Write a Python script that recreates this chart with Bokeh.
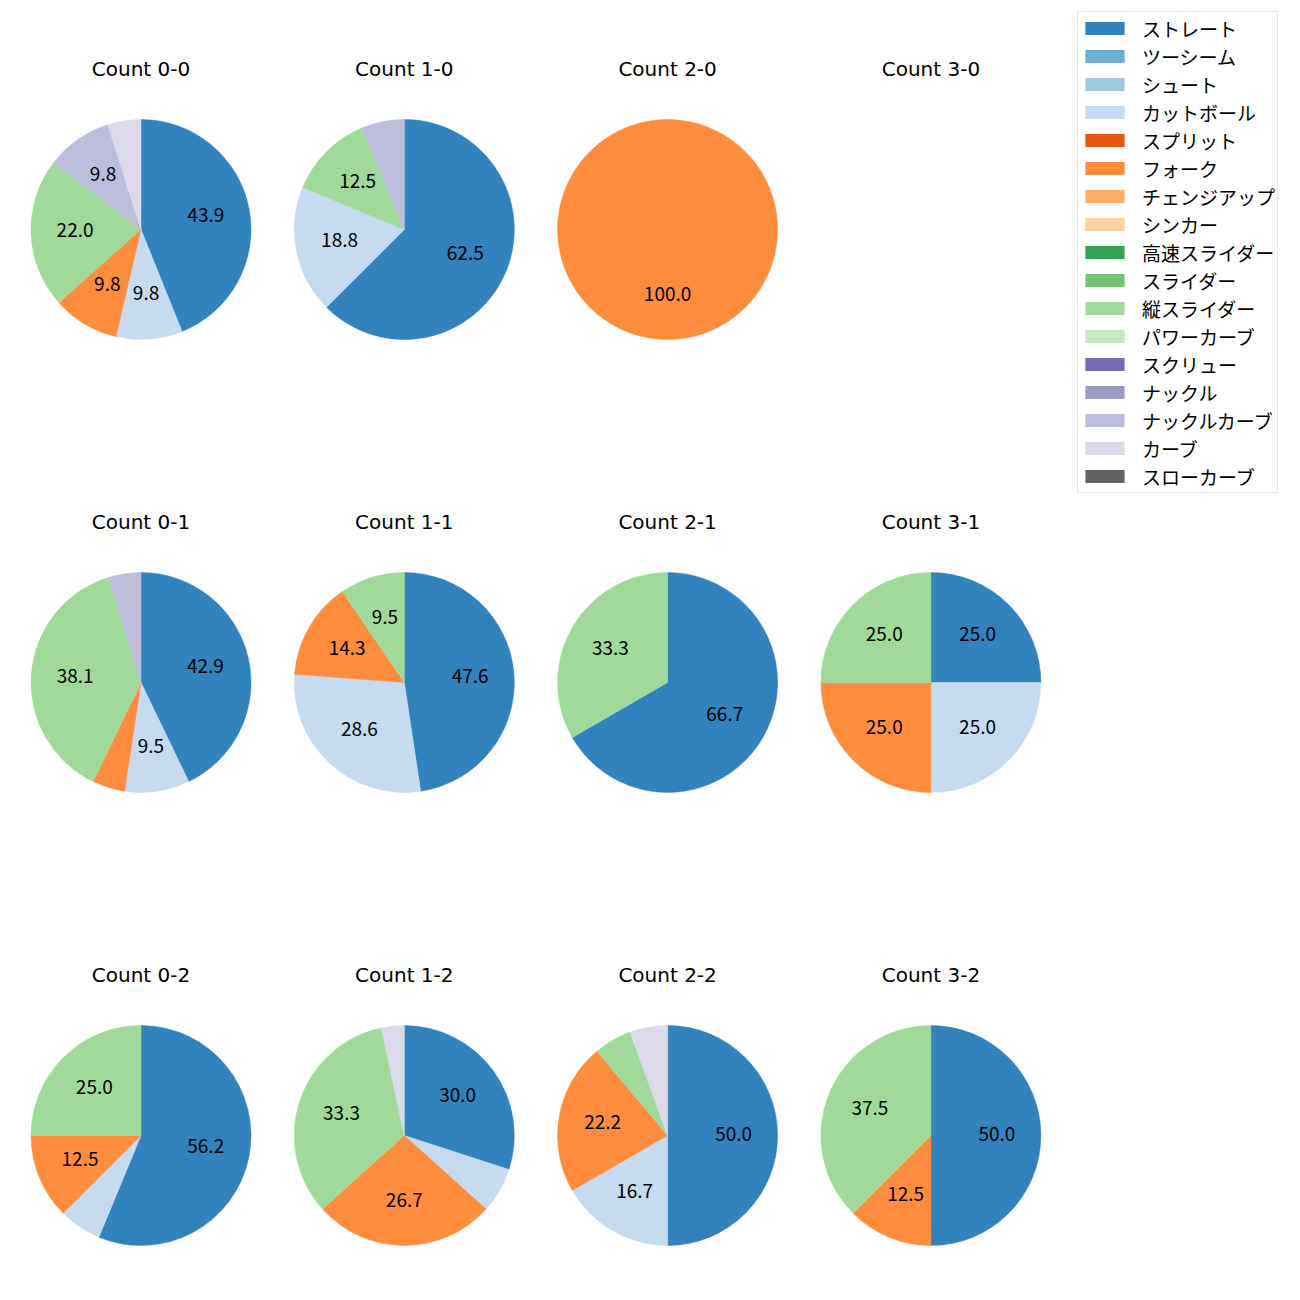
import math
from bokeh.plotting import figure
from bokeh.models import ColumnDataSource, Range1d, Legend, LegendItem
from bokeh.embed import file_html
from bokeh.resources import INLINE
from bokeh.core.properties import value

# ---------------- data ----------------
pitch_types = ["ストレート", "ツーシーム", "シュート", "カットボール", "スプリット", "フォーク",
               "チェンジアップ", "シンカー", "高速スライダー", "スライダー", "縦スライダー",
               "パワーカーブ", "スクリュー", "ナックル", "ナックルカーブ", "カーブ", "スローカーブ"]
colors = ["#3182bd", "#6baed6", "#9ecae1", "#c6dbef", "#e6550d", "#fd8d3c",
          "#fdae6b", "#fdd0a2", "#31a354", "#74c476", "#a1d99b", "#c7e9c0",
          "#756bb1", "#9e9ac8", "#bcbddc", "#dadaeb", "#636363"]

count_titles = ["Count 0-0", "Count 1-0", "Count 2-0", "Count 3-0",
                "Count 0-1", "Count 1-1", "Count 2-1", "Count 3-1",
                "Count 0-2", "Count 1-2", "Count 2-2", "Count 3-2"]

# pitches thrown per count, in pitch_types order
c00 = [18, 0, 0, 4, 0, 4, 0, 0, 0, 0, 9, 0, 0, 0, 4, 2, 0]
c10 = [10, 0, 0, 3, 0, 0, 0, 0, 0, 0, 2, 0, 0, 0, 1, 0, 0]
c20 = [0, 0, 0, 0, 0, 1, 0, 0, 0, 0, 0, 0, 0, 0, 0, 0, 0]
c30 = [0, 0, 0, 0, 0, 0, 0, 0, 0, 0, 0, 0, 0, 0, 0, 0, 0]
c01 = [9, 0, 0, 2, 0, 1, 0, 0, 0, 0, 8, 0, 0, 0, 1, 0, 0]
c11 = [10, 0, 0, 6, 0, 3, 0, 0, 0, 0, 2, 0, 0, 0, 0, 0, 0]
c21 = [2, 0, 0, 0, 0, 0, 0, 0, 0, 0, 1, 0, 0, 0, 0, 0, 0]
c31 = [1, 0, 0, 1, 0, 1, 0, 0, 0, 0, 1, 0, 0, 0, 0, 0, 0]
c02 = [9, 0, 0, 1, 0, 2, 0, 0, 0, 0, 4, 0, 0, 0, 0, 0, 0]
c12 = [9, 0, 0, 2, 0, 8, 0, 0, 0, 0, 10, 0, 0, 0, 0, 1, 0]
c22 = [9, 0, 0, 3, 0, 4, 0, 0, 0, 0, 1, 0, 0, 0, 0, 1, 0]
c32 = [4, 0, 0, 0, 0, 1, 0, 0, 0, 0, 3, 0, 0, 0, 0, 0, 0]
count_values = [c00, c10, c20, c30, c01, c11, c21, c31, c02, c12, c22, c32]

# ---------------- layout ----------------
W = H = 1290
X0, DX = 140.5, 263.3
Y0, DY = 229.0, 453.0
R = 110.0
TITLE_OFF = 160.0
LABEL_MIN = 8.0
FONT = "Noto Sans CJK JP"
TITLE_FONT = "DejaVu Sans"

p = figure(width=W, height=H, x_range=Range1d(0, W), y_range=Range1d(0, H),
           output_backend="svg", toolbar_location=None, min_border=0,
           x_axis_location=None, y_axis_location=None)
p.grid.visible = False
p.outline_line_color = None
p.background_fill_color = "white"
p.border_fill_color = "white"

wd = dict(x=[], y=[], s=[], e=[], r=[], c=[], la=[])
tx, ty, tt = [], [], []
lx, ly, lt = [], [], []


def add_wedge(x, y, s, e, r, c, la):
    wd["x"].append(x); wd["y"].append(y); wd["s"].append(s); wd["e"].append(e)
    wd["r"].append(r); wd["c"].append(c); wd["la"].append(la)


for i, (title, vals) in enumerate(zip(count_titles, count_values)):
    col, row = i % 4, i // 4
    cx = X0 + col * DX
    cy = H - (Y0 + row * DY)
    tx.append(cx)
    ty.append(cy + TITLE_OFF)
    tt.append(title)
    total = sum(vals)
    if total == 0:
        continue
    cum = 0
    for j, v in enumerate(vals):
        if v <= 0:
            continue
        f0 = cum / total
        f1 = (cum + v) / total
        start = math.pi / 2 - 2 * math.pi * f1
        end = math.pi / 2 - 2 * math.pi * f0
        draw_end = end - 1e-4 if v == total else end   # full circle: avoid zero-length arc
        add_wedge(cx, cy, start, draw_end, R, colors[j], 1.0)
        pct = 100.0 * v / total
        if pct >= LABEL_MIN:
            mid = (start + end) / 2
            lx.append(cx + 0.6 * R * math.cos(mid))
            ly.append(cy + 0.6 * R * math.sin(mid))
            lt.append("%1.1f" % pct)
        cum += v

# one zero-size entry per pitch type, used only as the legend swatch
legend_index = []
for j, c in enumerate(colors):
    legend_index.append(len(wd["x"]))
    add_wedge(X0, H - Y0, 0.0, 0.1, 0.0, c, 0.0)

src = ColumnDataSource(wd)
wr = p.wedge(x="x", y="y", radius="r", start_angle="s", end_angle="e", source=src,
             fill_color="c", line_color="c", line_alpha="la", line_width=0.5)

p.text(x=tx, y=ty, text=tt, text_align="center", text_baseline="middle", y_offset=-1,
       text_font=value(TITLE_FONT), text_font_size="20px", text_color="black")
p.text(x=lx, y=ly, text=lt, text_align="center", text_baseline="middle", y_offset=-2,
       text_font=value(FONT), text_font_size="19px", text_color="black")

items = [LegendItem(label=name, renderers=[wr], index=legend_index[j])
         for j, name in enumerate(pitch_types)]
legend = Legend(items=items, location=(1077, H - 13 - 480))
legend.label_text_font = FONT
legend.label_text_font_size = "19px"
legend.label_text_color = "black"
legend.glyph_width = 49
legend.glyph_height = 16
legend.label_height = 28
legend.label_standoff = 13
legend.spacing = 0
legend.padding = 2
legend.margin = 0
legend.border_line_color = "#cccccc"
legend.border_line_width = 1
legend.background_fill_color = "white"
legend.background_fill_alpha = 1
p.add_layout(legend)

open("out.html", "w").write(file_html(p, INLINE))
